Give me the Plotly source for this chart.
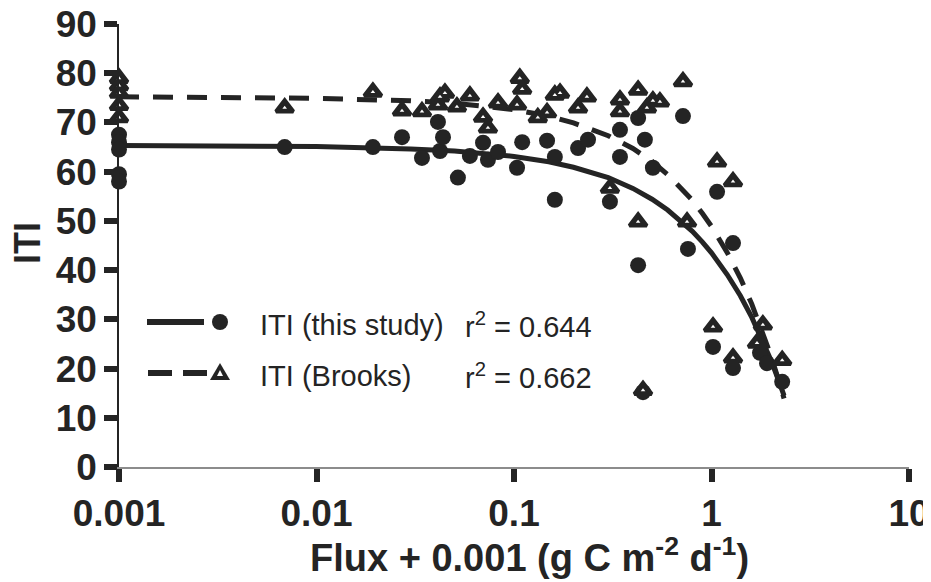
import plotly.graph_objects as go

# ---------------- data ----------------
# ITI (this study) – filled circles
study_x = [0.001, 0.001, 0.001, 0.001, 0.001, 0.0069, 0.0193, 0.0271, 0.0342, 0.0412,
           0.0422, 0.0437, 0.052, 0.0598, 0.0697, 0.0738, 0.083, 0.1036, 0.11, 0.147,
           0.161, 0.161, 0.211, 0.237, 0.306, 0.344, 0.344, 0.425, 0.425, 0.45,
           0.46, 0.505, 0.717, 0.76, 1.018, 1.067, 1.285, 1.285, 1.76, 1.91, 2.28]
study_y = [67.5, 66.0, 64.5, 59.5, 58.0, 65.0, 65.0, 67.0, 62.8, 70.1,
           64.2, 67.0, 58.8, 63.2, 65.9, 62.4, 64.0, 60.8, 66.0, 66.3,
           63.0, 54.3, 64.8, 66.5, 53.9, 68.5, 63.0, 70.9, 41.0, 15.2,
           66.5, 60.8, 71.3, 44.3, 24.4, 55.9, 45.5, 20.1, 23.2, 21.1, 17.3]

# ITI (Brooks) – open triangles
brooks_x = [0.001, 0.001, 0.001, 0.001, 0.001, 0.0069, 0.0193, 0.0271, 0.0342, 0.0412,
            0.0422, 0.0447, 0.0514, 0.0598, 0.0697, 0.0738, 0.083, 0.1036, 0.107, 0.11,
            0.132, 0.147, 0.161, 0.171, 0.211, 0.234, 0.344, 0.344, 0.425, 0.471,
            0.505, 0.548, 0.717, 0.306, 0.425, 0.45, 0.752, 1.018, 1.067, 1.285,
            1.285, 1.70, 1.82, 2.28]
brooks_y = [79.0, 77.5, 76.0, 73.5, 71.0, 73.0, 76.2, 72.4, 72.2, 73.6,
            75.2, 76.0, 73.2, 75.4, 71.1, 68.9, 74.0, 73.6, 79.0, 76.8,
            71.0, 72.0, 75.6, 76.0, 73.0, 75.2, 74.6, 72.2, 76.6, 73.0,
            74.4, 74.2, 78.3, 56.7, 49.8, 15.6, 49.8, 28.5, 62.0, 58.0,
            22.2, 25.2, 28.9, 21.7]

# fitted curves, values
fit_x = [0.001, 0.01, 0.03, 0.05, 0.1, 0.15, 0.2, 0.3, 0.4, 0.5, 0.6, 0.7, 0.8, 0.9,
         1.0, 1.2, 1.4, 1.6, 1.8, 2.0, 2.2, 2.33]
fit_study = [65.3, 65.1, 64.6, 64.2, 63.1, 62.0, 60.9, 58.8, 56.6, 54.4, 52.2, 50.0,
             47.9, 45.7, 43.5, 39.1, 34.8, 30.4, 26.1, 21.7, 17.3, 14.5]
fit_brooks = [75.2, 74.9, 74.4, 73.9, 72.6, 71.3, 69.9, 67.3, 64.7, 62.1, 59.4, 56.8,
              54.2, 51.5, 48.9, 43.6, 38.4, 33.1, 27.9, 22.6, 17.3, 13.9]

x_tick_vals = [0.001, 0.01, 0.1, 1, 10]
x_tick_text = ["0.001", "0.01", "0.1", "1", "10"]
y_tick_vals = [0, 10, 20, 30, 40, 50, 60, 70, 80, 90]

legend_labels = ["ITI (this study)", "ITI (Brooks)"]
legend_r2 = ["r<sup>2</sup> = 0.644", "r<sup>2</sup> = 0.662"]

INK = "#242424"
FONT = "Liberation Sans, Arial, sans-serif"

fig = go.Figure()

fig.add_trace(go.Scatter(x=fit_x, y=fit_brooks, mode="lines",
                         line=dict(color=INK, width=5, dash="20px,14px"),
                         cliponaxis=False, hoverinfo="skip"))
fig.add_trace(go.Scatter(x=fit_x, y=fit_study, mode="lines",
                         line=dict(color=INK, width=5),
                         cliponaxis=False, hoverinfo="skip"))
fig.add_trace(go.Scatter(x=study_x, y=study_y, mode="markers",
                         marker=dict(symbol="circle", size=16, color=INK, line=dict(width=0)),
                         cliponaxis=False))
# triangles: thick dark outline with a small white hole
fig.add_trace(go.Scatter(x=brooks_x, y=brooks_y, mode="markers",
                         marker=dict(symbol="triangle-up", size=15, color=INK,
                                     line=dict(width=4, color=INK)),
                         cliponaxis=False))
fig.add_trace(go.Scatter(x=brooks_x, y=brooks_y, mode="markers",
                         marker=dict(symbol="triangle-up", size=4, color="white",
                                     line=dict(width=0)),
                         cliponaxis=False, hoverinfo="skip"))

# ---------------- legend drawn by hand ----------------
shapes = []
annotations = []
rows_y = [322, 373]  # pixel rows (window coordinates)


def py(p):
    return 1 - (p - 24) / (467 - 24)


def px(p):
    return (p - 119) / (909 - 119)


# row 1: solid line + circle
shapes.append(dict(type="line", xref="paper", yref="paper", x0=px(147), x1=px(204),
                   y0=py(rows_y[0]), y1=py(rows_y[0]), line=dict(color=INK, width=6)))
shapes.append(dict(type="circle", xref="paper", yref="paper", xsizemode="pixel", ysizemode="pixel",
                   xanchor=px(220), yanchor=py(rows_y[0]), x0=-8, x1=8, y0=-8, y1=8,
                   fillcolor=INK, line=dict(width=0)))
# row 2: dashed line + triangle
shapes.append(dict(type="line", xref="paper", yref="paper", x0=px(148), x1=px(207),
                   y0=py(rows_y[1]), y1=py(rows_y[1]),
                   line=dict(color=INK, width=6, dash="24px,11px")))
shapes.append(dict(type="path", xref="paper", yref="paper", xsizemode="pixel", ysizemode="pixel",
                   xanchor=px(220), yanchor=py(rows_y[1]),
                   path="M -10 -7 L 10 -7 L 0 10 Z",
                   fillcolor=INK, line=dict(width=0)))
shapes.append(dict(type="path", xref="paper", yref="paper", xsizemode="pixel", ysizemode="pixel",
                   xanchor=px(220), yanchor=py(rows_y[1]),
                   path="M -3 -3 L 3 -3 L 0 3 Z",
                   fillcolor="white", line=dict(width=0)))
for i, lab in enumerate(legend_labels):
    annotations.append(dict(xref="paper", yref="paper", x=px(258), y=py(rows_y[i] + 3),
                            xanchor="left", yanchor="middle", showarrow=False, text=lab,
                            font=dict(family=FONT, size=29, color=INK)))
    annotations.append(dict(xref="paper", yref="paper", x=px(463), y=py(rows_y[i] + 3),
                            xanchor="left", yanchor="middle", showarrow=False, text=legend_r2[i],
                            font=dict(family=FONT, size=29, color=INK)))

# axis titles
annotations.append(dict(xref="paper", yref="paper", x=px(529), y=py(555), xanchor="center",
                        yanchor="middle", showarrow=False,
                        text="Flux + 0.001 (g C m<sup>-2</sup> d<sup>-1</sup>)",
                        font=dict(family=FONT, size=38, color=INK, weight="bold")))
annotations.append(dict(xref="paper", yref="paper", x=px(27), y=py(243), xanchor="center",
                        yanchor="middle", showarrow=False, text="ITI", textangle=-90,
                        font=dict(family=FONT, size=36, color=INK, weight="bold")))

# the page places the figure 8px in from the window's top-left corner,
# so the figure is sized to end exactly at the window edges
fig.update_layout(
    width=923, height=574,
    margin=dict(l=111, r=22, t=16, b=115, autoexpand=False),
    paper_bgcolor="white", plot_bgcolor="white",
    showlegend=False,
    shapes=shapes, annotations=annotations,
    xaxis=dict(type="log", range=[-3, 1], tickvals=x_tick_vals, ticktext=x_tick_text,
               ticks="outside", ticklen=13, tickwidth=6, tickcolor=INK, automargin=False,
               ticklabeloverflow="allow",
               showline=True, linecolor="#8c8c8c", linewidth=2, showgrid=False, zeroline=False,
               tickfont=dict(family=FONT, size=37, color=INK, weight="bold")),
    yaxis=dict(range=[0, 90], tickvals=y_tick_vals, automargin=False,
               ticklabeloverflow="allow",
               ticks="outside", ticklen=13, tickwidth=6, tickcolor=INK,
               showline=True, linecolor=INK, linewidth=1.5, showgrid=False, zeroline=False,
               tickfont=dict(family=FONT, size=37, color=INK, weight="bold")),
)

fig.write_html("out.html")
